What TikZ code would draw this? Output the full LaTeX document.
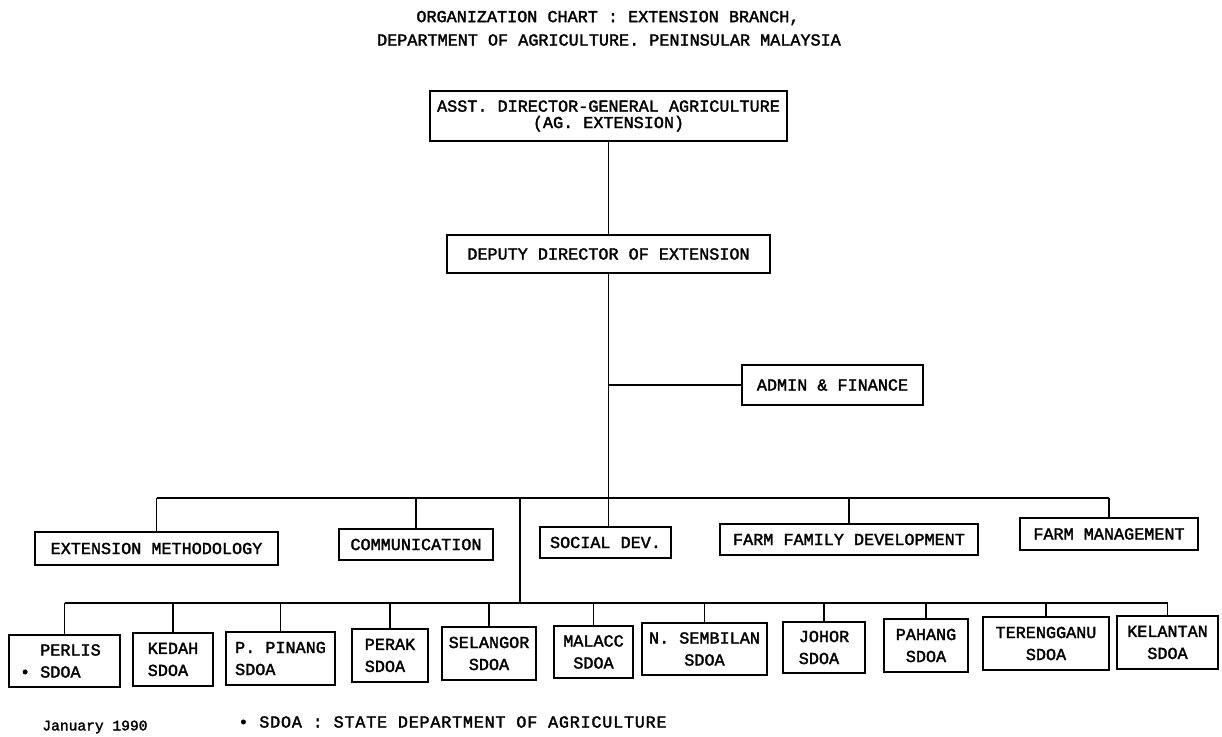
\documentclass[tikz,border=0pt]{standalone}
\usepackage{fontspec}
\newfontfamily\typeface{Liberation Mono}[FakeBold=2]
\newfontfamily\notefacewide{Liberation Mono}[FakeBold=2,LetterSpace=4.5]
\newcommand{\chartfont}{\typeface\fontsize{8.4pt}{11pt}\selectfont}
\newcommand{\headfont}{\typeface\fontsize{8.4pt}{8.2pt}\selectfont}
\begin{document}
\begin{tikzpicture}[x=0.5pt,y=-0.5pt,
  unit/.style={draw,line width=0.65pt,inner sep=0pt,font=\chartfont,align=center},
  link/.style={line width=0.65pt}]
\useasboundingbox (0,0) rectangle (1222,737);

\node[font=\chartfont] (title1) at (608,18) {ORGANIZATION CHART : EXTENSION BRANCH,};
\node[font=\chartfont] (title2) at (609,40) {DEPARTMENT OF AGRICULTURE. PENINSULAR MALAYSIA};

\node[unit,minimum width=178.5pt,minimum height=25pt,font=\headfont] (adg) at (608.5,116)
  {ASST. DIRECTOR-GENERAL AGRICULTURE\\(AG. EXTENSION)};
\node[unit,minimum width=161.5pt,minimum height=19pt] (dde) at (608.5,254) {DEPUTY DIRECTOR OF EXTENSION};
\node[unit,minimum width=90.5pt,minimum height=20pt] (admin) at (832.5,385) {ADMIN \& FINANCE};

% branches
\node[unit,minimum width=121.5pt,minimum height=16.5pt] (extm) at (156.5,548.5) {EXTENSION METHODOLOGY};
\node[unit,minimum width=77pt,minimum height=15.5pt] (comm) at (416,544.5) {COMMUNICATION};
\node[unit,minimum width=65.5pt,minimum height=15.5pt] (socdev) at (605.5,542.5) {SOCIAL DEV.};
\node[unit,minimum width=129pt,minimum height=15.5pt] (ffd) at (849,539.5) {FARM FAMILY DEVELOPMENT};
\node[unit,minimum width=89pt,minimum height=16pt] (fm) at (1109,534) {FARM MANAGEMENT};

% state offices
\node[unit,align=left,minimum width=55.5pt,minimum height=26pt] (perlis) at (64.5,661) {\hspace*{6pt}PERLIS\\\hspace*{6pt}\llap{\textbullet\ }SDOA};
\node[unit,align=left,minimum width=40pt,minimum height=26.5pt] (kedah) at (173,659.5) {KEDAH\\SDOA};
\node[unit,align=left,minimum width=54.5pt,minimum height=26.5pt] (ppinang) at (280.5,658.5) {P. PINANG\\SDOA};
\node[unit,align=left,minimum width=38pt,minimum height=26.5pt] (perak) at (390,655.5) {PERAK\\SDOA};
\node[unit,minimum width=47pt,minimum height=26.5pt] (selangor) at (489,653.5) {SELANGOR\\SDOA};
\node[unit,minimum width=39.5pt,minimum height=26pt] (malacc) at (593.5,652) {MALACC\\SDOA};
\node[unit,minimum width=62.5pt,minimum height=26pt] (nsembilan) at (704.5,649) {N. SEMBILAN\\SDOA};
\node[unit,align=left,minimum width=41pt,minimum height=25.5pt] (johor) at (824,647.5) {JOHOR\\SDOA};
\node[unit,minimum width=42pt,minimum height=26.5pt] (pahang) at (926,645.5) {PAHANG\\SDOA};
\node[unit,minimum width=63pt,minimum height=26.5pt] (terengganu) at (1046,643.5) {TERENGGANU\\SDOA};
\node[unit,minimum width=50.5pt,minimum height=26.5pt] (kelantan) at (1167.5,642.5) {KELANTAN\\SDOA};

\node[font=\typeface\fontsize{7.3pt}{8pt}\selectfont,anchor=west,inner sep=0pt] (date) at (42,727) {January 1990};
\node[font=\notefacewide\fontsize{8.4pt}{9pt}\selectfont,anchor=west,inner sep=0pt] (note) at (238,722) {\textbullet\ SDOA : STATE DEPARTMENT OF AGRICULTURE};

% lines
\coordinate (deptbus) at (608.5,498);
\coordinate (statetop) at (520,498);
\coordinate (statebus) at (520,603);

\draw[link] (adg) -- (dde);
\draw[link] (dde.south) -- (dde.south |- socdev.north);
\draw[link] (admin.west) -- (admin.west -| dde.south);
\draw[link] (extm.north |- deptbus) -- (fm.north |- deptbus);
\foreach \b in {extm,comm,ffd,fm}
  \draw[link] (\b.north) -- (\b.north |- deptbus);
\draw[link] (statetop) -- (statebus);
\draw[link] (perlis.north |- statebus) -- (kelantan.north |- statebus);
\foreach \s in {perlis,kedah,ppinang,perak,selangor,malacc,nsembilan,johor,pahang,terengganu,kelantan}
  \draw[link] (\s.north) -- (\s.north |- statebus);
\end{tikzpicture}
\end{document}
